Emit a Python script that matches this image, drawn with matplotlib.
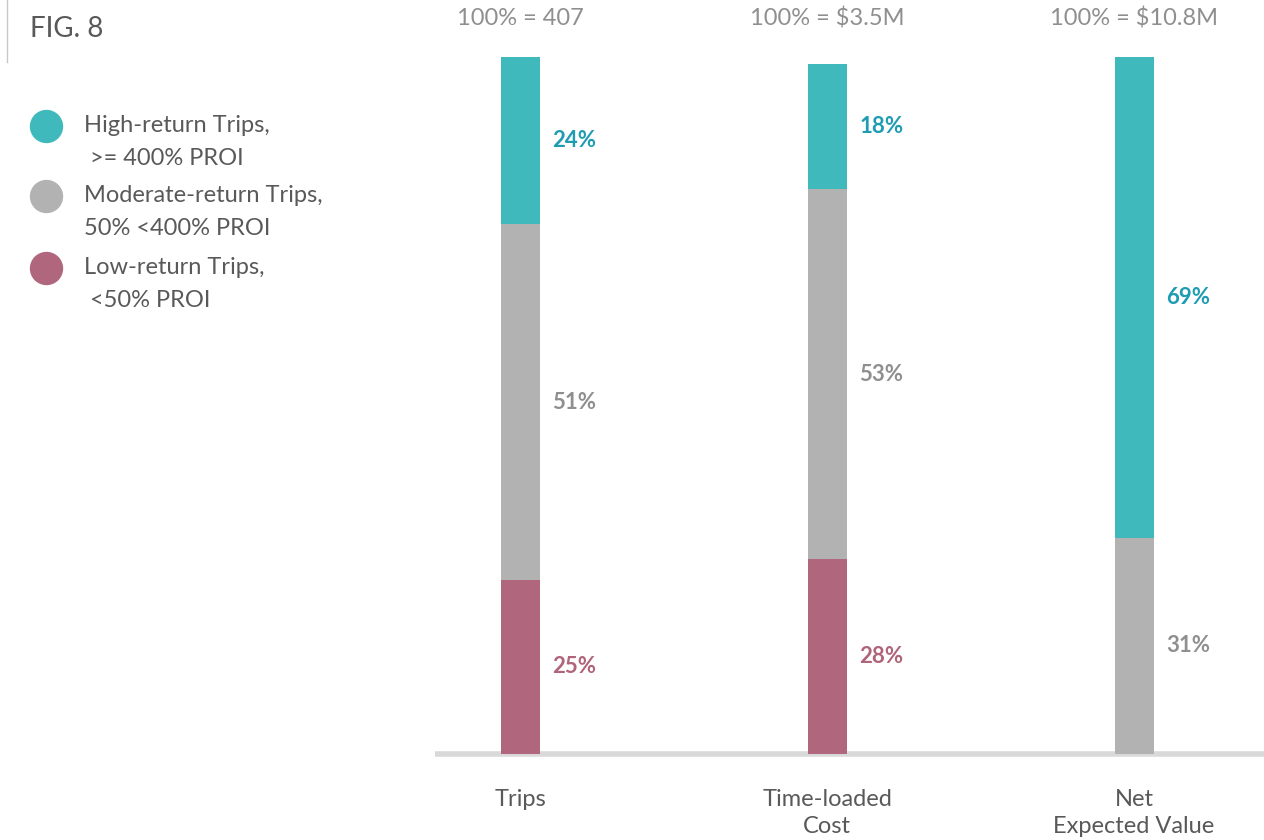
import matplotlib.pyplot as plt
from matplotlib.lines import Line2D

plt.rcParams['font.family'] = ['Lato', 'DejaVu Sans']

# stacked shares per column (bottom to top: low, moderate, high)
categories = ["Trips", "Time-loaded\nCost", "Net\nExpected Value"]
totals = ["100% = 407", "100% = $3.5M", "100% = $10.8M"]
low_share = [25, 28, 0]
moderate_share = [51, 53, 31]
high_share = [24, 18, 69]

legend_labels = ["High-return Trips,\n >= 400% PROI",
                 "Moderate-return Trips,\n50% <400% PROI",
                 "Low-return Trips,\n <50% PROI"]

teal = "#3fb9bb"
grey = "#b2b2b2"
rose = "#b0667c"
teal_txt = "#1d9cb2"
grey_txt = "#8f8f8f"
rose_txt = "#b0647a"
text_col = "#595959"

W, H = 1264, 840
fig = plt.figure(figsize=(W / 100, H / 100), dpi=100)

# axes spans the baseline; y 0..100 goes from px 754 up to px 57
ax = fig.add_axes([435 / W, (H - 754) / H, (W - 435) / W, (754 - 57) / H])
ax.set_xlim(-0.277, 2.423)
ax.set_ylim(0, 100)
ax.axis("off")

x = range(len(categories))
bw = 0.127
bottom = [0] * len(categories)
for vals, col, tcol in [(low_share, rose, rose_txt),
                        (moderate_share, grey, grey_txt),
                        (high_share, teal, teal_txt)]:
    ax.bar(x, vals, width=bw, bottom=bottom, color=col, zorder=3)
    for i, v in enumerate(vals):
        if v > 0:
            ax.annotate(f"{v}%", (i + bw / 2, bottom[i] + v / 2),
                        xytext=(9, 0), textcoords="offset points",
                        ha="left", va="center", fontsize=16,
                        fontweight="bold", color=tcol)
    bottom = [b + v for b, v in zip(bottom, vals)]

ax.axhline(0, color="#d9d9d9", lw=4, zorder=2, clip_on=False,
           solid_capstyle="butt")

# column headers and category names
for i, (cat, tot) in enumerate(zip(categories, totals)):
    ax.annotate(tot, (i, 100), xytext=(0, 28), textcoords="offset points",
                ha="center", va="center", fontsize=17, color=grey_txt,
                annotation_clip=False)
    ax.annotate(cat, (i, 0), xytext=(0, -25), textcoords="offset points",
                ha="center", va="top", fontsize=17, color=text_col,
                linespacing=1.35, annotation_clip=False)

# title with the thin rule at the left edge
fig.text(30 / W, 1 - 29 / H, "FIG. 8", fontsize=20, color=text_col,
         ha="left", va="center")
fig.add_artist(Line2D([7 / W, 7 / W], [1, 1 - 62 / H], color="#c8c8c8", lw=1))

# legend
for y, lab, col in zip([126, 196, 268], legend_labels, [teal, grey, rose]):
    fig.add_artist(Line2D([46 / W], [1 - y / H], marker="o", markersize=23,
                          color=col, lw=0))
    fig.text(84 / W, 1 - (y - 11) / H, lab, fontsize=17, color=text_col,
             ha="left", va="top", linespacing=1.7)

fig.savefig("out.png", dpi=100)
